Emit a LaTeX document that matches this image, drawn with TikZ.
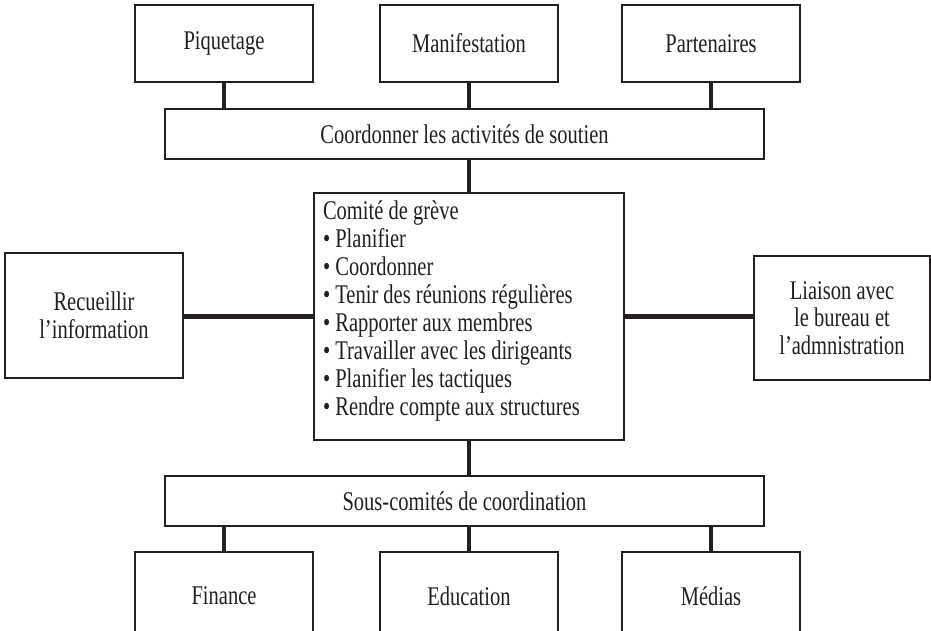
\documentclass[tikz,border=0pt]{standalone}
\usepackage{fontspec}
\setmainfont{Liberation Serif}[FakeStretch=0.76]
\usepackage{tikz}
\usetikzlibrary{positioning}
\definecolor{ink}{HTML}{231F20}
\tikzstyle{box} = [rectangle, draw=ink, line width=1.3pt, text=ink, text centered, inner sep=0pt, outer sep=0pt]
\tikzstyle{topbox} = [box, minimum width=178pt, minimum height=77pt]
\tikzstyle{botbox} = [box, minimum width=178pt, minimum height=88pt]
\tikzstyle{bar} = [box, minimum width=599pt, minimum height=50pt]
\tikzstyle{sidebox} = [box, align=center]
\tikzstyle{line} = [draw=ink, line width=4.5pt]

\begin{document}
\begin{tikzpicture}[align=center, font=\fontsize{27}{27.5}\selectfont]
    \useasboundingbox (0,0) rectangle (931pt,630pt);

    \node [box, minimum width=310pt, minimum height=247pt] (comite) at (469pt,313.5pt) {\parbox[c][231pt][t]{292pt}{\raggedright\baselineskip=28pt
        Comité de grève\\
        • Planifier\\
        • Coordonner\\
        • Tenir des réunions régulières\\
        • Rapporter aux membres\\
        • Travailler avec les dirigeants\\
        • Planifier les tactiques\\
        • Rendre compte aux structures}};
    \node [bar] (soutien) [above=34pt of comite, xshift=-4.5pt] {Coordonner les activités de soutien};
    \node [topbox] (manif) [above=27pt of soutien, xshift=4.5pt] {Manifestation};
    \node [topbox] (piquet) [left=67pt of manif] {Piquetage};
    \node [topbox] (parten) [right=64pt of manif] {Partenaires};
    \node [sidebox, minimum width=178pt, minimum height=125pt] (info) [left=131pt of comite, yshift=1pt] {Recueillir\\l’information};
    \node [sidebox, minimum width=176pt, minimum height=124pt] (liaison) [right=130pt of comite, yshift=-1.5pt] {Liaison avec\\le bureau et\\l’admnistration};
    \node [bar] (souscom) [below=36pt of comite, xshift=-4.5pt] {Sous-comités de coordination};
    \node [botbox] (educ) [below=26pt of souscom, xshift=4.5pt] {Education};
    \node [botbox] (finance) [left=67pt of educ] {Finance};
    \node [botbox] (medias) [right=64pt of educ] {Médias};

    \path [line] (piquet.south) -- (piquet.south |- soutien.north);
    \path [line] (manif.south) -- (manif.south |- soutien.north);
    \path [line] (parten.south) -- (parten.south |- soutien.north);
    \path [line] (comite.north) -- (comite.north |- soutien.south);
    \path [line] (comite.west) -- (comite.west -| info.east);
    \path [line] (comite.east) -- (comite.east -| liaison.west);
    \path [line] (comite.south) -- (comite.south |- souscom.north);
    \path [line] (finance.north) -- (finance.north |- souscom.south);
    \path [line] (educ.north) -- (educ.north |- souscom.south);
    \path [line] (medias.north) -- (medias.north |- souscom.south);

\end{tikzpicture}
\end{document}
